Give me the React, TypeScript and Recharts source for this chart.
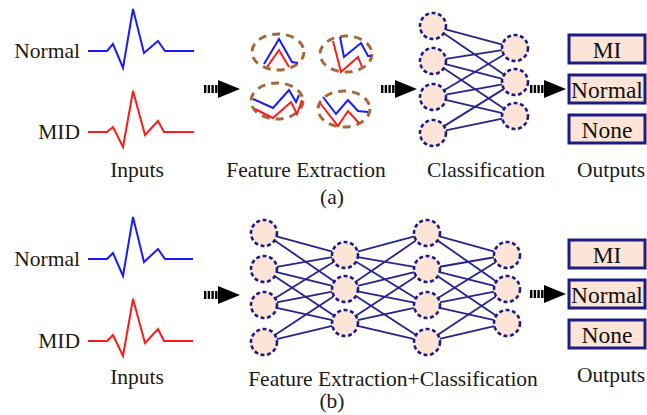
import React from 'react';
import { ComposedChart, Scatter, XAxis, YAxis } from 'recharts';

// all values are in picture coordinates (x to the right, y downward)
const inputNormalA = [
  { x: 88, y: 51 }, { x: 107, y: 51 }, { x: 113, y: 44 }, { x: 123, y: 68 }, { x: 133, y: 9 },
  { x: 144, y: 53 }, { x: 158, y: 41 }, { x: 165, y: 51 }, { x: 194, y: 51 },
];
const inputMidA = [
  { x: 88, y: 132 }, { x: 107, y: 132 }, { x: 113, y: 127 }, { x: 123, y: 147 }, { x: 133, y: 91 },
  { x: 145, y: 135 }, { x: 158, y: 121 }, { x: 164, y: 132 }, { x: 194, y: 132 },
];
const inputNormalB = [
  { x: 88, y: 259 }, { x: 107, y: 259 }, { x: 113, y: 253 }, { x: 123, y: 276 }, { x: 133, y: 217 },
  { x: 144, y: 262 }, { x: 158, y: 249 }, { x: 165, y: 259 }, { x: 193, y: 259 },
];
const inputMidB = [
  { x: 88, y: 341 }, { x: 107, y: 341 }, { x: 113, y: 335 }, { x: 123, y: 356 }, { x: 133, y: 299 },
  { x: 145, y: 343 }, { x: 158, y: 329 }, { x: 164, y: 341 }, { x: 193, y: 341 },
];

const featureClusters = [
  { x: 278, y: 52 }, { x: 346, y: 54 }, { x: 277, y: 101 }, { x: 344, y: 109 },
];
const featureBlue = [
  [{ x: 264, y: 64 }, { x: 279, y: 39 }, { x: 292, y: 62 }, { x: 298, y: 63 }],
  [{ x: 340, y: 37 }, { x: 344, y: 57 }, { x: 361, y: 43 }, { x: 368, y: 56 }, { x: 371, y: 56 }],
  [{ x: 253, y: 99 }, { x: 273, y: 108 }, { x: 289, y: 90 }, { x: 296, y: 102 }, { x: 299, y: 95 }],
  [{ x: 323, y: 97 }, { x: 336, y: 114 }, { x: 348, y: 100 }, { x: 358, y: 111 }, { x: 368, y: 112 }],
];
const featureRed = [
  [{ x: 267, y: 67 }, { x: 279, y: 50 }, { x: 289, y: 67 }],
  [{ x: 333, y: 41 }, { x: 341, y: 72 }, { x: 358, y: 57 }, { x: 362, y: 67 }],
  [{ x: 255, y: 109 }, { x: 273, y: 118 }, { x: 291, y: 102 }, { x: 297, y: 114 }, { x: 302, y: 100 }],
  [{ x: 320, y: 103 }, { x: 338, y: 126 }, { x: 348, y: 111 }, { x: 359, y: 123 }],
];

const netALeft = [{ x: 433, y: 26 }, { x: 433, y: 61 }, { x: 433, y: 97 }, { x: 433, y: 133 }];
const netARight = [{ x: 515, y: 48 }, { x: 515, y: 82 }, { x: 515, y: 116 }];
const netB1 = [{ x: 264, y: 233 }, { x: 264, y: 269 }, { x: 264, y: 305 }, { x: 264, y: 342 }];
const netB2 = [{ x: 345, y: 255 }, { x: 345, y: 289 }, { x: 345, y: 323 }];
const netB3 = [{ x: 427, y: 233 }, { x: 427, y: 269 }, { x: 427, y: 305 }, { x: 427, y: 342 }];
const netB4 = [{ x: 507, y: 255 }, { x: 507, y: 289 }, { x: 507, y: 323 }];

// which node of a 4-node layer connects to which node of a 3-node layer
const links4to3 = [[0, 0], [0, 1], [1, 0], [1, 1], [1, 2], [2, 0], [2, 1], [2, 2], [3, 1], [3, 2]];

const arrows = [
  { x: 204, y: 89 }, { x: 381, y: 89 }, { x: 530, y: 89 },
  { x: 204, y: 295 }, { x: 530, y: 294 },
];

const outputLabels = ['MI', 'Normal', 'None'];
const outputsA = [{ x: 607, y: 49 }, { x: 607, y: 89 }, { x: 607, y: 129 }];
const outputsB = [{ x: 607, y: 254 }, { x: 607, y: 294 }, { x: 607, y: 334 }];

const sideLabels = [
  { x: 80, y: 51, text: 'Normal' }, { x: 80, y: 132, text: 'MID' },
  { x: 80, y: 259, text: 'Normal' }, { x: 80, y: 341, text: 'MID' },
];
const captions = [
  { x: 137, y: 170, text: 'Inputs' },
  { x: 306, y: 170, text: 'Feature Extraction' },
  { x: 486, y: 170, text: 'Classification' },
  { x: 611, y: 170, text: 'Outputs' },
  { x: 332, y: 197, text: '(a)' },
  { x: 137, y: 377, text: 'Inputs' },
  { x: 393, y: 379, text: 'Feature Extraction+Classification' },
  { x: 611, y: 375, text: 'Outputs' },
  { x: 332, y: 401, text: '(b)' },
];

const FONT = '"Liberation Serif", "Times New Roman", serif';
const NAVY = '#1c1c86';
const PEACH = '#fce4d6';
const NODE_R = 13;

// a connection runs from the rim of one node to the rim of the other
const trim = (p: any, q: any) => {
  const dx = q.x - p.x;
  const dy = q.y - p.y;
  const len = Math.hypot(dx, dy);
  const k = NODE_R / len;
  return [
    { x: p.x + dx * k, y: p.y + dy * k },
    { x: q.x - dx * k, y: q.y - dy * k },
  ];
};

const edgesOf = (a: any[], b: any[]) => links4to3.map(([i, j]) => trim(a[i], b[j]));

const allEdges = [
  ...edgesOf(netALeft, netARight),
  ...edgesOf(netB1, netB2),
  ...edgesOf(netB3, netB2),
  ...edgesOf(netB3, netB4),
];
const allNodes = [...netALeft, ...netARight, ...netB1, ...netB2, ...netB3, ...netB4];

const outputs = [...outputsA, ...outputsB].map((p, i) => ({ ...p, text: outputLabels[i % 3] }));

const noDot = () => <g />;

const nodeShape = ({ cx, cy }: any) => (
  <circle cx={cx} cy={cy} r={NODE_R} fill={PEACH} stroke={NAVY} strokeWidth={2.6} strokeDasharray="4 2.6" />
);

const clusterShape = ({ cx, cy }: any) => (
  <ellipse cx={cx} cy={cy} rx={26} ry={18} fill="none" stroke="#a5683a" strokeWidth={3} strokeDasharray="8 6" />
);

const arrowShape = ({ cx, cy }: any) => (
  <g>
    <line x1={cx} y1={cy} x2={cx + 16} y2={cy} stroke="#000" strokeWidth={8} strokeDasharray="2.4 1.3" />
    <polygon points={`${cx + 14},${cy - 9} ${cx + 36},${cy} ${cx + 14},${cy + 9}`} fill="#000" />
  </g>
);

const boxShape = ({ cx, cy, payload }: any) => (
  <g>
    <rect x={cx - 38} y={cy - 14} width={76} height={28} fill={PEACH} stroke={NAVY} strokeWidth={3} />
    <text x={cx} y={cy + 1} textAnchor="middle" dominantBaseline="central" fontFamily={FONT} fontSize={23.5} fill="#111">
      {payload.text}
    </text>
  </g>
);

const textShape = (anchor: string) => ({ cx, cy, payload }: any) => (
  <text x={cx} y={cy} textAnchor={anchor} dominantBaseline="central" fontFamily={FONT} fontSize={21.5} fill="#1a1a1a">
    {payload.text}
  </text>
);

export default function App() {
  return (
    <div style={{ position: 'absolute', left: 0, top: 0, background: '#fff' }}>
      <ComposedChart width={647} height={415} margin={{ top: 0, right: 0, bottom: 0, left: 0 }}>
        <XAxis type="number" dataKey="x" domain={[0, 647]} allowDataOverflow hide />
        <YAxis type="number" dataKey="y" domain={[0, 415]} allowDataOverflow reversed hide />

        <Scatter data={inputNormalA} dataKey="y" shape={noDot} line={{ stroke: '#1a1aff', strokeWidth: 2 }} isAnimationActive={false} />
        <Scatter data={inputMidA} dataKey="y" shape={noDot} line={{ stroke: '#ff1a1a', strokeWidth: 2 }} isAnimationActive={false} />
        <Scatter data={inputNormalB} dataKey="y" shape={noDot} line={{ stroke: '#1a1aff', strokeWidth: 2 }} isAnimationActive={false} />
        <Scatter data={inputMidB} dataKey="y" shape={noDot} line={{ stroke: '#ff1a1a', strokeWidth: 2 }} isAnimationActive={false} />

        <Scatter data={featureClusters} dataKey="y" shape={clusterShape} isAnimationActive={false} />
        {featureBlue.map((pts, i) => (
          <Scatter key={`fb${i}`} data={pts} dataKey="y" shape={noDot} line={{ stroke: '#1a1aff', strokeWidth: 2 }} isAnimationActive={false} />
        ))}
        {featureRed.map((pts, i) => (
          <Scatter key={`fr${i}`} data={pts} dataKey="y" shape={noDot} line={{ stroke: '#ff1a1a', strokeWidth: 2 }} isAnimationActive={false} />
        ))}

        {allEdges.map((pts, i) => (
          <Scatter key={`e${i}`} data={pts} dataKey="y" shape={noDot} line={{ stroke: '#24248c', strokeWidth: 1.8 }} isAnimationActive={false} />
        ))}
        <Scatter data={allNodes} dataKey="y" shape={nodeShape} isAnimationActive={false} />

        <Scatter data={arrows} dataKey="y" shape={arrowShape} isAnimationActive={false} />
        <Scatter data={outputs} dataKey="y" shape={boxShape} isAnimationActive={false} />
        <Scatter data={sideLabels} dataKey="y" shape={textShape('end')} isAnimationActive={false} />
        <Scatter data={captions} dataKey="y" shape={textShape('middle')} isAnimationActive={false} />
      </ComposedChart>
    </div>
  );
}
